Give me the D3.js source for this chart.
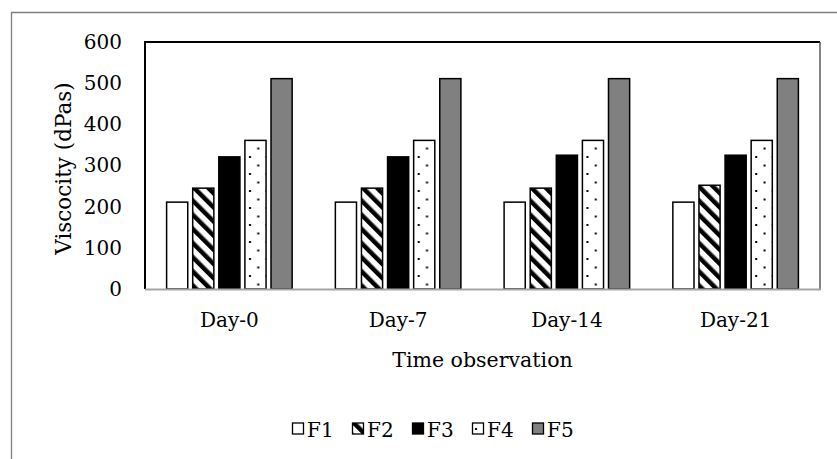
<!DOCTYPE html>
<html>
<head>
<meta charset="utf-8">
<script src="https://cdn.jsdelivr.net/npm/d3@7"></script>
<style>
    body { margin: 0; background: #fff; }
    text { font-family: "DejaVu Serif", serif; fill: #000; }
</style>
</head>
<body>
<svg id="chart" width="837" height="459"></svg>
<script>
// values
const days = ['Day-0', 'Day-7', 'Day-14', 'Day-21'];
const seriesNames = ['F1', 'F2', 'F3', 'F4', 'F5'];
const F1 = [211, 211, 211, 211];
const F2 = [245, 245, 245, 252];
const F3 = [321, 321, 325, 325];
const F4 = [361, 361, 361, 361];
const F5 = [511, 511, 511, 511];
const yTicks = [0, 100, 200, 300, 400, 500, 600];

const seriesValues = [F1, F2, F3, F4, F5];
const PLOT = { left: 145, right: 820, top: 42, bottom: 289 };

const svg = d3.select('#chart');

// fills
const defs = svg.append('defs');
const stripes = defs.append('pattern')
    .attr('id', 'stripes')
    .attr('patternUnits', 'userSpaceOnUse')
    .attr('width', 10)
    .attr('height', 10)
    .attr('patternTransform', 'rotate(-45)');
stripes.append('rect').attr('width', 10).attr('height', 10).attr('fill', '#fff');
stripes.append('rect').attr('width', 4.5).attr('height', 10).attr('fill', '#000');

const dots = defs.append('pattern')
    .attr('id', 'dots')
    .attr('patternUnits', 'userSpaceOnUse')
    .attr('width', 16.6)
    .attr('height', 17);
dots.append('rect').attr('width', 16.6).attr('height', 17).attr('fill', '#fff');
dots.append('rect').attr('x', 3).attr('y', 3).attr('width', 2).attr('height', 2).attr('fill', '#000');
dots.append('rect').attr('x', 11.3).attr('y', 11.5).attr('width', 2).attr('height', 2).attr('fill', '#000');

const fills = ['#fff', 'url(#stripes)', '#000', 'url(#dots)', '#808080'];

// outer frame (only top and left visible)
svg.append('path')
    .attr('d', 'M11.5 459 V12.5 H837')
    .attr('fill', 'none')
    .attr('stroke', '#7f7f7f')
    .attr('stroke-width', 1.3);

const x0 = d3.scaleBand()
    .domain(days)
    .range([PLOT.left, PLOT.right]);

const x1 = d3.scaleBand()
    .domain(seriesNames)
    .range([-65.25, 65.25])
    .paddingInner(0.19)
    .paddingOuter(0.095);

const y = d3.scaleLinear()
    .domain([0, 600])
    .range([PLOT.bottom, PLOT.top]);

// plot area border
svg.append('path')
    .attr('d', `M${PLOT.left} ${PLOT.bottom} V${PLOT.top} H${PLOT.right}`)
    .attr('fill', 'none')
    .attr('stroke', '#000')
    .attr('stroke-width', 2);
svg.append('line')
    .attr('x1', PLOT.right).attr('x2', PLOT.right)
    .attr('y1', PLOT.top).attr('y2', PLOT.bottom)
    .attr('stroke', '#404040')
    .attr('stroke-width', 1.3);

// bars
const groups = svg.selectAll('.day')
    .data(days)
    .join('g')
    .attr('class', 'day')
    .attr('transform', (d) => `translate(${x0(d) + x0.bandwidth() / 2},0)`);

groups.selectAll('rect')
    .data((d, i) => seriesNames.map((s, j) => ({ s, j, value: seriesValues[j][i] })))
    .join('rect')
    .attr('x', (d) => x1(d.s))
    .attr('width', x1.bandwidth())
    .attr('y', (d) => y(d.value))
    .attr('height', (d) => y(0) - y(d.value))
    .attr('fill', (d) => fills[d.j])
    .attr('stroke', '#000')
    .attr('stroke-width', 1.5);

// x axis line
svg.append('line')
    .attr('x1', PLOT.left).attr('x2', PLOT.right + 1)
    .attr('y1', PLOT.bottom + 0.5).attr('y2', PLOT.bottom + 0.5)
    .attr('stroke', '#a6a6a6')
    .attr('stroke-width', 2);

// y axis labels
const yAxis = svg.append('g')
    .attr('transform', `translate(${PLOT.left},0)`)
    .call(d3.axisLeft(y).tickValues(yTicks).tickSize(0).tickPadding(23));
yAxis.select('.domain').remove();
yAxis.selectAll('text')
    .style('font-family', '"DejaVu Serif", serif')
    .style('font-size', '20px')
    .attr('fill', '#000');

// x axis labels
const xAxis = svg.append('g')
    .attr('transform', `translate(0,${PLOT.bottom})`)
    .call(d3.axisBottom(x0).tickSize(0).tickPadding(24));
xAxis.select('.domain').remove();
xAxis.selectAll('text')
    .style('font-family', '"DejaVu Serif", serif')
    .style('font-size', '20px')
    .attr('fill', '#000');

// titles
svg.append('text')
    .attr('x', (PLOT.left + PLOT.right) / 2)
    .attr('y', 367)
    .attr('text-anchor', 'middle')
    .style('font-size', '20.5px')
    .text('Time observation');

svg.append('text')
    .attr('transform', `translate(71,${(PLOT.top + PLOT.bottom) / 2 + 3}) rotate(-90)`)
    .attr('text-anchor', 'middle')
    .style('font-size', '21.5px')
    .text('Viscocity (dPas)');

// legend
const legend = svg.selectAll('.legend')
    .data(seriesNames)
    .join('g')
    .attr('class', 'legend')
    .attr('transform', (d, i) => `translate(${292 + i * 60},0)`);

legend.append('rect')
    .attr('x', 0.5)
    .attr('y', 423)
    .attr('width', 11)
    .attr('height', 11)
    .attr('fill', (d, i) => fills[i])
    .attr('stroke', '#000')
    .attr('stroke-width', 1.3);

legend.append('text')
    .attr('x', 15)
    .attr('y', 437)
    .style('font-size', '20px')
    .text((d) => d);
</script>
</body>
</html>
